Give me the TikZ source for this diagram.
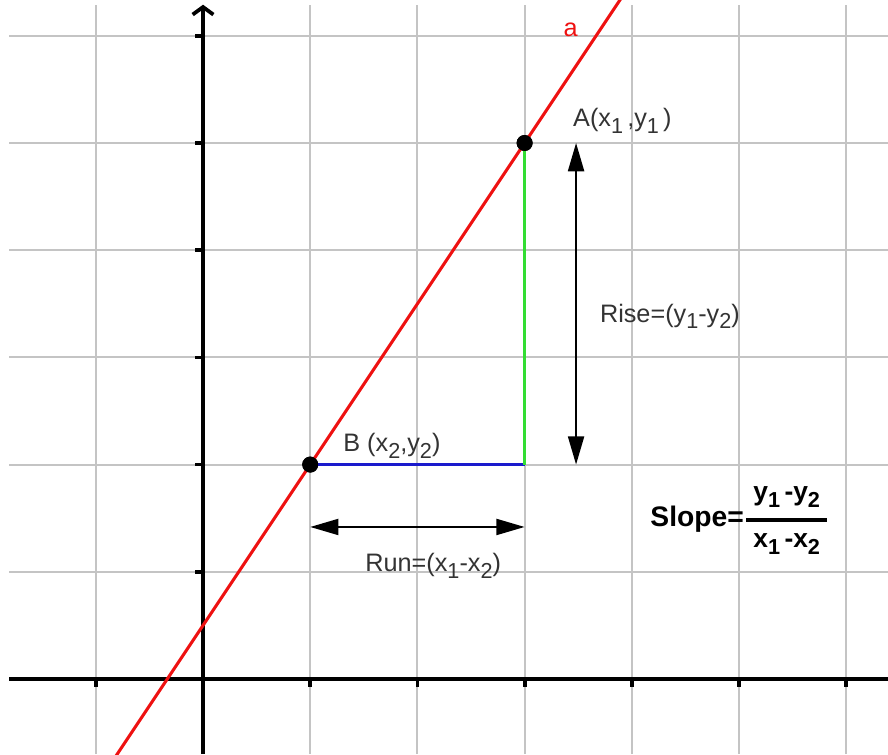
\documentclass[tikz,border=0pt]{standalone}
\usepackage{amsmath}
\usepackage{fontspec}
\setmainfont{Liberation Sans}
\usetikzlibrary{arrows.meta,calc}
\definecolor{ink}{HTML}{333333}
\definecolor{gridgray}{HTML}{C4C4C4}
\definecolor{linered}{HTML}{EE1111}
\definecolor{risegreen}{HTML}{33DD33}
\definecolor{runblue}{HTML}{1A1ACC}
\newcommand{\lowidx}[1]{\raisebox{-.5ex}{\fontsize{11.5}{12}\selectfont #1}}
\tikzset{
  gridline/.style={draw=gridgray,line width=1pt},
  axisline/.style={draw=black,line width=2pt},
  slopeline/.style={draw=linered,line width=1.6pt},
  riseline/.style={draw=risegreen,line width=1.3pt},
  runline/.style={draw=runblue,line width=1.4pt},
  dot/.style={circle,fill=black,minimum size=8.5pt,inner sep=0pt},
  measure/.style={{Triangle[length=15pt,width=8.5pt]}-{Triangle[length=15pt,width=8.5pt]},line width=1.1pt,draw=black},
  label/.style={anchor=base west,inner sep=0pt,text=ink,font=\fontsize{13.4}{15}\selectfont},
}

\begin{document}
\begin{tikzpicture}[x=2cm,y=2cm]
  \useasboundingbox (-1.894,-0.70) rectangle (6.39,6.334);
  \clip (-1.894,-0.70) rectangle (6.39,6.334);

  % grid and axes
  \draw[gridline,step=1] (-1.81,-0.70) grid (6.39,6.29);
  \draw[axisline] (-1.81,0) -- (6.39,0);
  \draw[axisline,-{Straight Barb[length=4pt,width=11pt]}] (0,-0.70) -- (0,6.29);
  \foreach \i in {-1,1,2,...,6} \draw[axisline] (\i,0) -- (\i,-0.075);
  \foreach \j in {1,...,6} \draw[axisline] (0,\j) -- (-0.075,\j);

  % the line a through A and B
  \node[dot] (A) at (3,5) {};
  \node[dot] (B) at (1,2) {};
  \coordinate (C) at (3,2);
  \draw[slopeline] ($(B)!-1!(A)$) -- ($(A)!-0.5!(B)$);
  \draw[runline] (B.center) -- (C);
  \draw[riseline] (C) -- (A.center);
  \node[dot] at (A) {};
  \node[dot] at (B) {};

  % rise and run
  \coordinate (risetop) at (3.48,5);
  \coordinate (risebot) at (3.48,2);
  \draw[measure] (risetop) -- (risebot);
  \coordinate (runleft) at (1,1.418);
  \coordinate (runright) at (3,1.418);
  \draw[measure] (runleft) -- (runright);

  % labels
  \node[label,text=linered] (aname) at (3.36,5.99) {a};
  \node[label] (Aname) at (3.45,5.15) {A(x\lowidx{1}\,,y\lowidx{1}\,)};
  \node[label] (Bname) at (1.306,2.118) {B (x\lowidx{2},y\lowidx{2})};
  \node[label] (risename) at (3.70,3.33) {Rise=(y\lowidx{1}-y\lowidx{2})};
  \node[label] (runname) at (1.511,0.998) {Run=(x\lowidx{1}-x\lowidx{2})};
  \node[label,text=black,font=\fontsize{15}{17}\selectfont\bfseries] (slope) at (4.17,1.418)
    {Slope=$\genfrac{}{}{2pt}{0}{\text{\fontsize{14}{15}\selectfont\bfseries\ y\lowidx{1}\,-y\lowidx{2}\ }}{\text{\fontsize{14}{15}\selectfont\bfseries\ x\lowidx{1}\,-x\lowidx{2}\ }}$};
\end{tikzpicture}
\end{document}
